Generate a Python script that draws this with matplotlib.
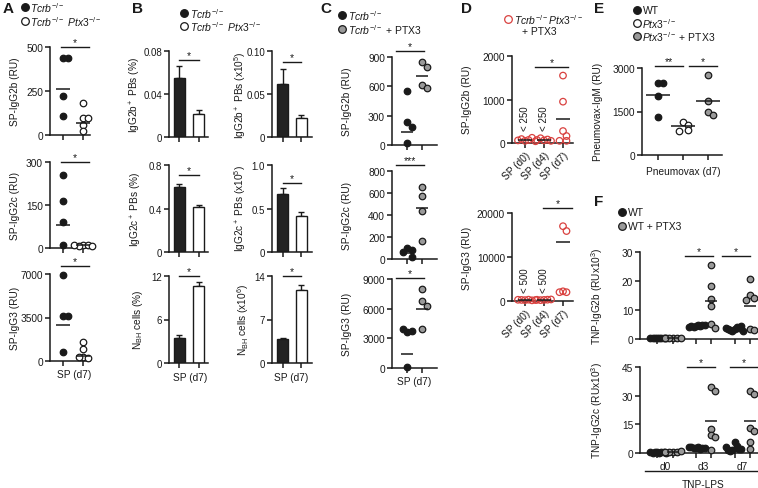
import numpy as np
import matplotlib.pyplot as plt

W, H = 758, 489

plt.rcParams['font.family'] = ['Liberation Sans', 'DejaVu Sans']
plt.rcParams['mathtext.fontset'] = 'custom'
plt.rcParams['mathtext.rm'] = 'Liberation Sans'
plt.rcParams['mathtext.it'] = 'Liberation Sans:italic'
plt.rcParams['mathtext.bf'] = 'Liberation Sans:bold'
plt.rcParams['font.size'] = 7.3
plt.rcParams['axes.linewidth'] = 1.1
plt.rcParams['xtick.major.width'] = 1.1
plt.rcParams['ytick.major.width'] = 1.1
plt.rcParams['xtick.major.size'] = 3.5
plt.rcParams['ytick.major.size'] = 3.5
plt.rcParams['xtick.major.pad'] = 1.5
plt.rcParams['ytick.major.pad'] = 1.5

INK = '#1a1a1a'
GREY = '#9a9a9a'
RED = '#d9413f'

# ---------------- data ----------------
# A  serum antibodies at SP d7, Tcrb-/- vs Tcrb-/- Ptx3-/-
a_igg2b_tcrb = [435, 440, 220, 110]
a_igg2b_dko = [180, 95, 95, 55, 20]
a_igg2b_lines = [260, 70]
a_igg2c_tcrb = [255, 165, 90, 10]
a_igg2c_dko = [10, 12, 8, 6, 9]
a_igg2c_lines = [80, 10]
a_igg3_tcrb = [6900, 3650, 3600, 700]
a_igg3_dko = [1500, 950, 350, 250, 300]
a_igg3_lines = [2900, 400]

# B  bar charts (mean, sem)
b_ylabels = [r'IgG2b$^+$ PBs (%)', r'IgG2b$^+$ PBs (x10$^5$)',
             r'IgG2c$^+$ PBs (%)', r'IgG2c$^+$ PBs (x10$^5$)',
             r'N$_{\mathrm{BH}}$ cells (%)', r'N$_{\mathrm{BH}}$ cells (x10$^6$)']
b_tcrb = [0.055, 0.062, 0.60, 0.67, 3.5, 3.8]
b_tcrb_err = [0.011, 0.017, 0.025, 0.06, 0.4, 0.3]
b_dko = [0.021, 0.022, 0.41, 0.41, 10.6, 11.8]
b_dko_err = [0.004, 0.004, 0.018, 0.045, 0.6, 0.8]
b_ymax = [0.08, 0.10, 0.8, 1.0, 12, 14]
b_ticks = [['0', '0.04', '0.08'], ['0', '0.05', '0.10'], ['0', '0.4', '0.8'],
           ['0', '0.5', '1.0'], ['0', '6', '12'], ['0', '7', '14']]

# C  Tcrb-/- vs Tcrb-/- + PTX3
c_igg2b_tcrb = [550, 235, 185, 20]
c_igg2b_ptx3 = [850, 800, 615, 585]
c_igg2b_lines = [130, 705]
c_igg2c_tcrb = [100, 80, 65, 15]
c_igg2c_ptx3 = [655, 573, 436, 164]
c_igg2c_lines = [55, 464]
c_igg3_tcrb = [3650, 3750, 3950, 100]
c_igg3_ptx3 = [8000, 6800, 6300, 3950]
c_igg3_lines = [1400, 6000]

# D  Tcrb-/-Ptx3-/- + PTX3 over time
d_days = ['SP (d0)', 'SP (d4)', 'SP (d7)']
d_igg2b_d0 = [50, 70, 90, 120, 60, 40]
d_igg2b_d4 = [60, 80, 110, 50, 70]
d_igg2b_d7 = [1550, 950, 275, 160, 50, 50]
d_igg2b_lines = [60, 60, 550]
d_igg3_d0 = [200, 300, 250, 150, 280, 220]
d_igg3_d4 = [250, 300, 200, 350, 280]
d_igg3_d7 = [17000, 15900, 2200, 2000, 2000]
d_igg3_lines = [200, 250, 13400]

# E  Pneumovax-IgM
e_wt = [2480, 2480, 2030, 1310]
e_ko = [1140, 1030, 860, 830]
e_ko_ptx3 = [2760, 1860, 1480, 1380]
e_lines = [2070, 1000, 1860]

# F  TNP-LPS, WT vs WT + PTX3
f_days = ['d0', 'd3', 'd7']
f_igg2b_wt = [[0.2, 0.3, 0.4, 0.3, 0.25, 0.35, 0.3, 0.2],
              [4.5, 4.8, 4.2, 4.6, 4.4, 4.9, 4.3, 4.7],
              [3.5, 4.2, 2.8, 3.9, 3.1, 4.4, 3.3, 2.6, 3.7]]
f_igg2b_ptx3 = [[0.3, 0.5, 0.2, 0.4, 0.3],
                [25.5, 18.3, 13.8, 11.4, 5.2, 3.8],
                [20.7, 15.2, 14.1, 13.4, 3.4, 3.1]]
f_igg2b_lines_wt = [0.3, 4.5, 3.5]
f_igg2b_lines_ptx3 = [0.3, 13.1, 11.4]
f_igg2c_wt = [[0.3, 0.2, 0.4, 0.3, 0.25, 0.35, 0.3, 0.2],
              [2.5, 3.0, 2.8, 2.2, 3.2, 2.6, 2.9, 2.4],
              [5.8, 3.5, 2.5, 1.5, 2.0, 1.0, 2.2, 1.8, 3.0]]
f_igg2c_ptx3 = [[0.4, 0.6, 0.3, 0.8, 0.5],
                [34.5, 32.4, 12.6, 9.4, 8.4, 1.5],
                [32.4, 30.9, 13.0, 11.5, 5.8, 2.1]]
f_igg2c_lines_wt = [0.3, 2.7, 2.5]
f_igg2c_lines_ptx3 = [0.5, 16.8, 16.8]
f_pos = [0, 1, 2.5, 3.5, 5, 6]

# ---------------- helpers ----------------
fig = plt.figure(figsize=(W / 100, H / 100), dpi=100)
ov = fig.add_axes([0, 0, 1, 1])
ov.set_xlim(0, W)
ov.set_ylim(H, 0)
ov.axis('off')


def make_ax(x0, x1, ytop, ybot, ymax, tlabels, g0, dg, tsize=7.3):
    ax = fig.add_axes([x0 / W, 1 - ybot / H, (x1 - x0) / W, (ybot - ytop) / H])
    ax.set_xlim((x0 - g0) / dg, (x1 - g0) / dg)
    ax.set_ylim(0, ymax)
    ax.spines[['top', 'right']].set_visible(False)
    ax.spines[['left', 'bottom']].set_color(INK)
    ax.set_yticks([float(t) for t in tlabels])
    ax.set_yticklabels(tlabels)
    ax.tick_params(colors=INK, labelsize=tsize)
    ax.patch.set_alpha(0)
    ax.ppu = (ybot - ytop) / ymax
    ax.dg = dg
    return ax


def swarm(vals, tol):
    offs, placed = [], []
    for v in vals:
        n = sum(1 for p in placed if abs(p - v) < tol)
        k = (n + 1) // 2 * (1 if n % 2 else -1)
        offs.append(k)
        placed.append(v)
    return np.array(offs, dtype=float)


def dots(ax, x, vals, face, edge=INK, step_px=4.5, size=22):
    offs = swarm(vals, 6 / ax.ppu) * step_px / ax.dg
    ax.scatter(x + offs, vals, s=size, c=face, edgecolors=edge,
               linewidths=0.9, zorder=3, clip_on=False)


def mline(ax, x, m, half_px=7):
    h = half_px / ax.dg
    ax.plot([x - h, x + h], [m, m], color=INK, lw=1.1, zorder=4,
            solid_capstyle='butt')


def sig(ax, xa, xb, y, txt='*'):
    ax.plot([xa, xb], [y, y], color=INK, lw=1.0, clip_on=False)
    ax.text((xa + xb) / 2, y, txt, ha='center', va='bottom', fontsize=7.5,
            color=INK, clip_on=False)


def group_ticks(ax, xs):
    ax.set_xticks(xs)
    ax.set_xticklabels([''] * len(xs))


# ---------------- A ----------------
a_rows = [(48, 136, ['0', '250', '500'], a_igg2b_tcrb, a_igg2b_dko, a_igg2b_lines, 500),
          (163, 249, ['0', '150', '300'], a_igg2c_tcrb, a_igg2c_dko, a_igg2c_lines, 300),
          (275, 362, ['0', '3500', '7000'], a_igg3_tcrb, a_igg3_dko, a_igg3_lines, 7640)]
for ytop, ybot, tl, v1, v2, ln, sy in a_rows:
    ax = make_ax(50, 90, ytop, ybot, float(tl[-1]), tl, 63, 20)
    group_ticks(ax, [0, 1])
    dots(ax, 0, v1, INK)
    dots(ax, 1, v2, 'white')
    mline(ax, 0, ln[0])
    mline(ax, 1, ln[1])
    sig(ax, -0.1, 1.3, sy)

# ---------------- B ----------------
b_cols = [(169, 208, 179, 19.5), (272, 312, 282.5, 18.5)]
b_rows = [(52, 138), (166, 253), (277, 364)]
b_sig_y = [0.0716, 0.087, 0.708, 0.79, 12, 14]
for i in range(6):
    x0, x1, g0, dg = b_cols[i % 2]
    ytop, ybot = b_rows[i // 2]
    ax = make_ax(x0, x1, ytop, ybot, b_ymax[i], b_ticks[i], g0, dg, 7.0)
    group_ticks(ax, [0, 1])
    w = 11 / dg
    ax.bar([0, 1], [b_tcrb[i], b_dko[i]], width=w, color=['#222222', 'white'],
           edgecolor=INK, linewidth=1.0, zorder=2)
    ax.errorbar([0, 1], [b_tcrb[i], b_dko[i]],
                yerr=[[0, 0], [b_tcrb_err[i], b_dko_err[i]]],
                fmt='none', ecolor=INK, elinewidth=1.0, capsize=2.2,
                capthick=1.0, zorder=1)
    sig(ax, 0, 1, b_sig_y[i])

# ---------------- C ----------------
c_rows = [(58, 146, ['0', '300', '600', '900'], c_igg2b_tcrb, c_igg2b_ptx3, c_igg2b_lines, 961, '*'),
          (172, 260, ['0', '200', '400', '600', '800'], c_igg2c_tcrb, c_igg2c_ptx3, c_igg2c_lines, 855, '***'),
          (280, 369, ['0', '3000', '6000', '9000'], c_igg3_tcrb, c_igg3_ptx3, c_igg3_lines, 9100, '*')]
for ytop, ybot, tl, v1, v2, ln, sy, st in c_rows:
    ax = make_ax(392, 437, ytop, ybot, float(tl[-1]), tl, 407, 15)
    group_ticks(ax, [0, 1])
    dots(ax, 0, v1, INK)
    dots(ax, 1, v2, GREY)
    mline(ax, 0, ln[0], 6)
    mline(ax, 1, ln[1], 6)
    sig(ax, -0.73, 1.13, sy, st)

# ---------------- D ----------------
d_rows = [(57, 144, ['0', '1000', '2000'], [d_igg2b_d0, d_igg2b_d4, d_igg2b_d7],
           d_igg2b_lines, '< 250', 300, (0.53, 2.26, 1747)),
          (214, 302, ['0', '10000', '20000'], [d_igg3_d0, d_igg3_d4, d_igg3_d7],
           d_igg3_lines, '< 500', 2100, (0.95, 2.47, 21136))]
for ytop, ybot, tl, groups, ln, note, note_y, (sa, sb, sy) in d_rows:
    ax = make_ax(512, 573, ytop, ybot, float(tl[-1]), tl, 525, 19)
    ax.set_xticks([0, 1, 2])
    ax.set_xticklabels(d_days, rotation=45, ha='right', rotation_mode='anchor')
    for g, vals in enumerate(groups):
        dots(ax, g, vals, 'none', RED, step_px=3.5)
        mline(ax, g, ln[g], 7)
    for g in (0, 1):
        ax.text(g, note_y, note, rotation=90, ha='center', va='bottom',
                fontsize=7, color=INK)
    sig(ax, sa, sb, sy)

# ---------------- E ----------------
ax = make_ax(642, 722, 69, 156, 3000, ['0', '1500', '3000'], 658, 25)
group_ticks(ax, [0, 1, 2])
for g, (vals, fc) in enumerate([(e_wt, INK), (e_ko, 'white'), (e_ko_ptx3, GREY)]):
    dots(ax, g, vals, fc)
    mline(ax, g, e_lines[g], 12)
sig(ax, -0.12, 1.0, 3069, '**')
sig(ax, 1.24, 2.36, 3069, '*')

# ---------------- F ----------------
f_rows = [(253, 340, ['0', '10', '20', '30'], f_igg2b_wt, f_igg2b_ptx3,
           f_igg2b_lines_wt, f_igg2b_lines_ptx3, 28.6, [(1.8, 3.6), (4.2, 6.0)]),
          (368, 454, ['0', '15', '30', '45'], f_igg2c_wt, f_igg2c_ptx3,
           f_igg2c_lines_wt, f_igg2c_lines_ptx3, 45, [(1.94, 3.74), (4.7, 6.5)])]
for ytop, ybot, tl, wt, pt, lwt, lpt, sy, spans in f_rows:
    ax = make_ax(640, 758, ytop, ybot, float(tl[-1]), tl, 657, 15.5)
    group_ticks(ax, f_pos)
    for d in range(3):
        dots(ax, f_pos[2 * d], wt[d], INK, step_px=2.2)
        dots(ax, f_pos[2 * d + 1], pt[d], GREY, step_px=4)
        mline(ax, f_pos[2 * d], lwt[d], 6)
        mline(ax, f_pos[2 * d + 1], lpt[d], 6)
    for sa, sb in spans:
        sig(ax, sa, sb, sy)
f_ax = ax
for d in range(3):
    cx = (f_pos[2 * d] + f_pos[2 * d + 1]) / 2
    f_ax.annotate(f_days[d], xy=(cx, 0), xycoords=('data', 'axes fraction'),
                  xytext=(0, -9), textcoords='offset points', ha='center',
                  va='center', color=INK)

# ---------------- overlay text ----------------
for x, y, t in [(3, 9, 'A'), (132, 9, 'B'), (320, 9, 'C'), (461, 9, 'D'),
                (594, 9, 'E'), (594, 202, 'F')]:
    ov.text(x, y, t, fontsize=11, fontweight='bold', ha='left', va='center', color=INK)

tcrb = r'$\mathit{Tcrb}^{-/-}$'
dko = r'$\mathit{Tcrb}^{-/-}\ \mathit{Ptx3}^{-/-}$'
legend_items = [(25, 8, INK, INK, tcrb), (25, 22, 'white', INK, dko),
                (184, 14, INK, INK, tcrb), (184, 27, 'white', INK, dko),
                (342, 16, INK, INK, tcrb), (342, 30, GREY, INK, tcrb + ' + PTX3'),
                (508, 20, 'none', RED, r'$\mathit{Tcrb}^{-/-}\mathit{Ptx3}^{-/-}$'),
                (637, 11, INK, INK, 'WT'), (637, 24, 'white', INK, r'$\mathit{Ptx3}^{-/-}$'),
                (637, 37, GREY, INK, r'$\mathit{Ptx3}^{-/-}$ + PTX3'),
                (622, 213, INK, INK, 'WT'), (622, 227, GREY, INK, 'WT + PTX3')]
for x, y, fc, ec, t in legend_items:
    ov.plot(x, y, 'o', ms=5.5, mfc=fc, mec=ec, mew=0.9)
    ov.text(x + 5.5, y, t, ha='left', va='center', fontsize=7.5, color=INK)
ov.text(522, 32, '+ PTX3', ha='left', va='center', fontsize=7.5, color=INK)

ylabels = [(15, 92, 'SP-IgG2b (RU)'), (15, 206, 'SP-IgG2c (RU)'), (15, 318, 'SP-IgG3 (RU)'),
           (135, 95, b_ylabels[0]), (240, 95, b_ylabels[1]),
           (136, 209, b_ylabels[2]), (240, 209, b_ylabels[3]),
           (138, 320, b_ylabels[4]), (243, 320, b_ylabels[5]),
           (347, 102, 'SP-IgG2b (RU)'), (347, 216, 'SP-IgG2c (RU)'), (347, 324, 'SP-IgG3 (RU)'),
           (467, 100, 'SP-IgG2b (RU)'), (467, 258, 'SP-IgG3 (RU)'),
           (598, 112, 'Pneumovax-IgM (RU)'),
           (597, 296, r'TNP-IgG2b (RUx10$^3$)'), (597, 411, r'TNP-IgG2c (RUx10$^3$)')]
for x, y, t in ylabels:
    ov.text(x, y, t, rotation=90, ha='center', va='center', color=INK)

for x, y in [(74, 375), (190, 378), (291, 378), (414, 382)]:
    ov.text(x, y, 'SP (d7)', ha='center', va='center', color=INK)
ov.text(683, 172, 'Pneumovax (d7)', ha='center', va='center', color=INK)

ov.plot([645, 758], [472, 472], color=INK, lw=1.0)
ov.text(703, 485, 'TNP-LPS', ha='center', va='center', color=INK)

fig.savefig('out.png', dpi=100)
